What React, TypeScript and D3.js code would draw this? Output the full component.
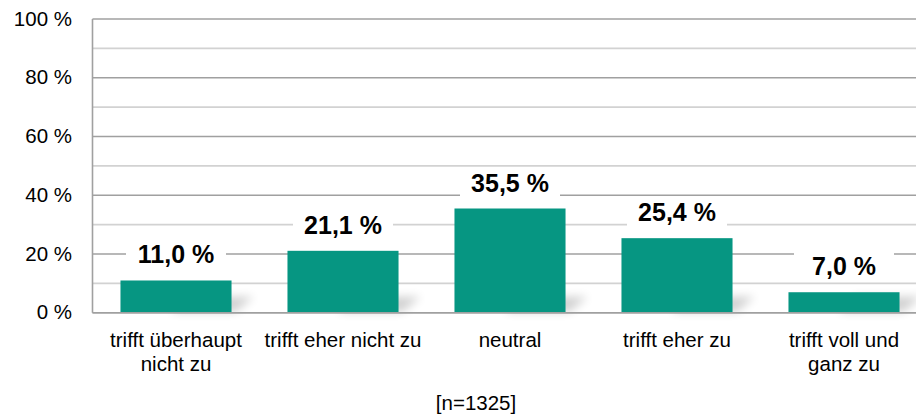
import React from "react";
import * as d3 from "d3";

const categories: string[][] = [
  ["trifft überhaupt", "nicht zu"],
  ["trifft eher nicht zu"],
  ["neutral"],
  ["trifft eher zu"],
  ["trifft voll und", "ganz zu"],
];
const values: number[] = [11.0, 21.1, 35.5, 25.4, 7.0];
const yTicks: number[] = [0, 20, 40, 60, 80, 100];
const minorTicks: number[] = [10, 30, 50, 70, 90];
const sampleNote = "[n=1325]";

const W = 916;
const H = 415;
const FONT = "Arial, 'Liberation Sans', sans-serif";

export default function App() {
  const keys = categories.map((c) => c.join(" "));
  const x = d3
    .scaleBand<string>()
    .domain(keys)
    .range([92.5, 927.5])
    .paddingInner(0.335)
    .paddingOuter(0.1675);
  const y = d3.scaleLinear().domain([0, 100]).range([312.8, 19]);
  const fmt = (v: number) => d3.format(".1f")(v).replace(".", ",") + " %";
  const bw = x.bandwidth();

  return (
    <svg width={W} height={H} style={{ position: "absolute", left: 0, top: 0, background: "#fff" }}>
      <defs>
        <filter id="blur" x="-50%" y="-200%" width="200%" height="500%">
          <feGaussianBlur stdDeviation="5" />
        </filter>
      </defs>
      <rect width={W} height={H} fill="#fff" />
      {minorTicks.map((t) => (
        <line key={"m" + t} x1={92.5} x2={927} y1={y(t)} y2={y(t)} stroke="#d2d2d2" strokeWidth={1.6} />
      ))}
      {yTicks.map((t) => (
        <line key={"g" + t} x1={92.5} x2={927} y1={y(t)} y2={y(t)} stroke="#a0a0a0" strokeWidth={1.6} />
      ))}
      <line x1={92.5} x2={92.5} y1={y(100)} y2={y(0)} stroke="#a0a0a0" strokeWidth={1.6} />
      {yTicks.map((t) => (
        <text key={"t" + t} x={72} y={y(t) + 6.5} textAnchor="end" fontFamily={FONT} fontSize={20.5} fill="#000">
          {t} %
        </text>
      ))}
      {keys.map((k, i) => {
        const x0 = x(k)!;
        const top = y(values[i]);
        const base = y(0);
        return (
          <g key={k}>
            <path
              d={`M${x0 + bw * 0.45},${base - 1} L${x0 + bw + 4},${base - 1} L${x0 + bw + 22},${base - 16} L${x0 + bw * 0.6},${base - 16} Z`}
              fill="#000"
              opacity={0.18}
              filter="url(#blur)"
            />
            <rect x={x0} y={top} width={bw} height={base - top} fill="#069682" />
          </g>
        );
      })}
      <line x1={92.5} x2={927} y1={y(0)} y2={y(0)} stroke="#a0a0a0" strokeWidth={1.6} />
      {keys.map((k, i) => {
        const cx = x(k)! + bw / 2;
        const cy = y(values[i]) - 26;
        return (
          <g key={"l" + k}>
            <rect x={cx - 50} y={cy - 15} width={100} height={30} fill="#fff" />
            <text x={cx} y={cy + 9} textAnchor="middle" fontFamily={FONT} fontSize={25} fontWeight="bold" fill="#000">
              {fmt(values[i])}
            </text>
          </g>
        );
      })}
      {keys.map((k, i) => {
        const cx = x(k)! + bw / 2;
        return (
          <text key={"c" + k} textAnchor="middle" fontFamily={FONT} fontSize={20.5} fill="#000">
            {categories[i].map((line, j) => (
              <tspan key={j} x={cx} y={346.5 + j * 24}>
                {line}
              </tspan>
            ))}
          </text>
        );
      })}
      <text x={476} y={410} textAnchor="middle" fontFamily={FONT} fontSize={20.5} fill="#000">
        {sampleNote}
      </text>
    </svg>
  );
}
